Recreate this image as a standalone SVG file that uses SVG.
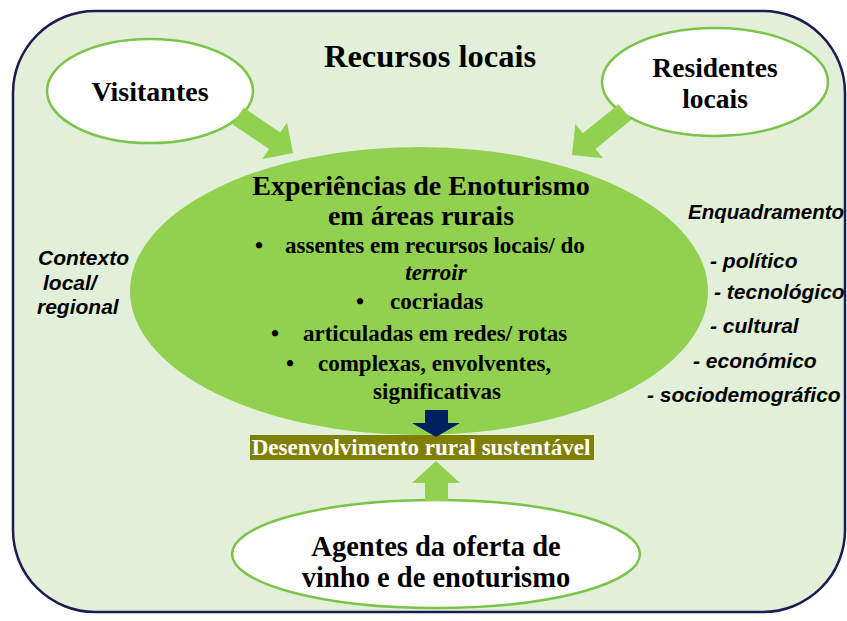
<svg xmlns="http://www.w3.org/2000/svg" width="847" height="621" viewBox="0 0 847 621">
<style>
.ser{font-family:"Liberation Serif","Times New Roman",serif;font-weight:bold;fill:#000;}
.san{font-family:"Liberation Sans",Arial,sans-serif;font-weight:bold;font-style:italic;fill:#000;font-size:21px;}
.b{font-size:23px;}
.wnode{fill:#fff;stroke:#7cc34a;stroke-width:2.5;}
.garrow{fill:#92d050;}
</style>
<g id="frame">
<rect x="13" y="11" width="832" height="601" rx="82" ry="82" fill="#e2f0d9" stroke="#1c1c50" stroke-width="2.5"/>
<text class="ser" x="430" y="67" font-size="32.5" text-anchor="middle">Recursos locais</text>
</g>
<g id="experiencias">
<ellipse cx="419" cy="291" rx="289" ry="144" fill="#92d050"/>
<text class="ser" x="421" y="195" font-size="28" text-anchor="middle">Experiências de Enoturismo</text>
<text class="ser" x="421" y="225" font-size="28" text-anchor="middle">em áreas rurais</text>
<text class="ser b" x="255" y="253">•</text>
<text class="ser b" x="285" y="253">assentes em recursos locais/ do</text>
<text class="ser b" x="436" y="280" text-anchor="middle" font-style="italic">terroir</text>
<text class="ser b" x="356" y="309">•</text>
<text class="ser b" x="390" y="309">cocriadas</text>
<text class="ser b" x="271" y="341">•</text>
<text class="ser b" x="303" y="341">articuladas em redes/ rotas</text>
<text class="ser b" x="286" y="371">•</text>
<text class="ser b" x="318" y="371">complexas, envolventes,</text>
<text class="ser b" x="437" y="399" text-anchor="middle">significativas</text>
</g>
<g id="visitantes">
<ellipse class="wnode" cx="150" cy="91" rx="103" ry="52"/>
<text class="ser" x="150" y="101" font-size="28" text-anchor="middle">Visitantes</text>
</g>
<g id="residentes">
<ellipse class="wnode" cx="715" cy="82" rx="113" ry="54"/>
<text class="ser" x="715" y="77" font-size="27.5" text-anchor="middle">Residentes</text>
<text class="ser" x="715" y="108" font-size="27.5" text-anchor="middle">locais</text>
</g>
<g id="agentes">
<ellipse class="wnode" cx="436" cy="554" rx="204" ry="54"/>
<text class="ser" x="436" y="556" font-size="28.5" text-anchor="middle">Agentes da oferta de</text>
<text class="ser" x="436" y="587" font-size="28.5" text-anchor="middle">vinho e de enoturismo</text>
</g>
<g id="desenvolvimento">
<rect x="250" y="435" width="344" height="25" fill="#7f7f00"/>
<text class="ser" x="421" y="455" font-size="23" text-anchor="middle" style="fill:#fff">Desenvolvimento rural sustentável</text>
</g>
<g id="contexto">
<text class="san" x="38" y="265">Contexto</text>
<text class="san" x="43" y="290">local/</text>
<text class="san" x="37" y="314">regional</text>
</g>
<g id="enquadramento">
<text class="san" x="688" y="219" style="font-size:20.5px">Enquadramento</text>
<text class="san" x="710" y="268">- político</text>
<text class="san" x="714" y="299">- tecnológico</text>
<text class="san" x="710" y="333">- cultural</text>
<text class="san" x="693" y="368">- económico</text>
<text class="san" x="647" y="402">- sociodemográfico</text>
</g>
<g id="connectors">
<polygon class="garrow" points="232.4,124.3 269.1,149 262.4,159 293,153 287,122.4 280.3,132.4 243.6,107.7"/>
<polygon class="garrow" points="618.7,104.2 582.9,133.3 575.3,123.9 572,155 603.1,158.3 595.5,148.9 631.3,119.8"/>
<polygon fill="#002060" points="425,410 448,410 448,423 460,423 436,437 412,423 425,423"/>
<polygon class="garrow" points="425,501 448,501 448,483 460,483 436,461 412,483 425,483"/>
</g>
</svg>
